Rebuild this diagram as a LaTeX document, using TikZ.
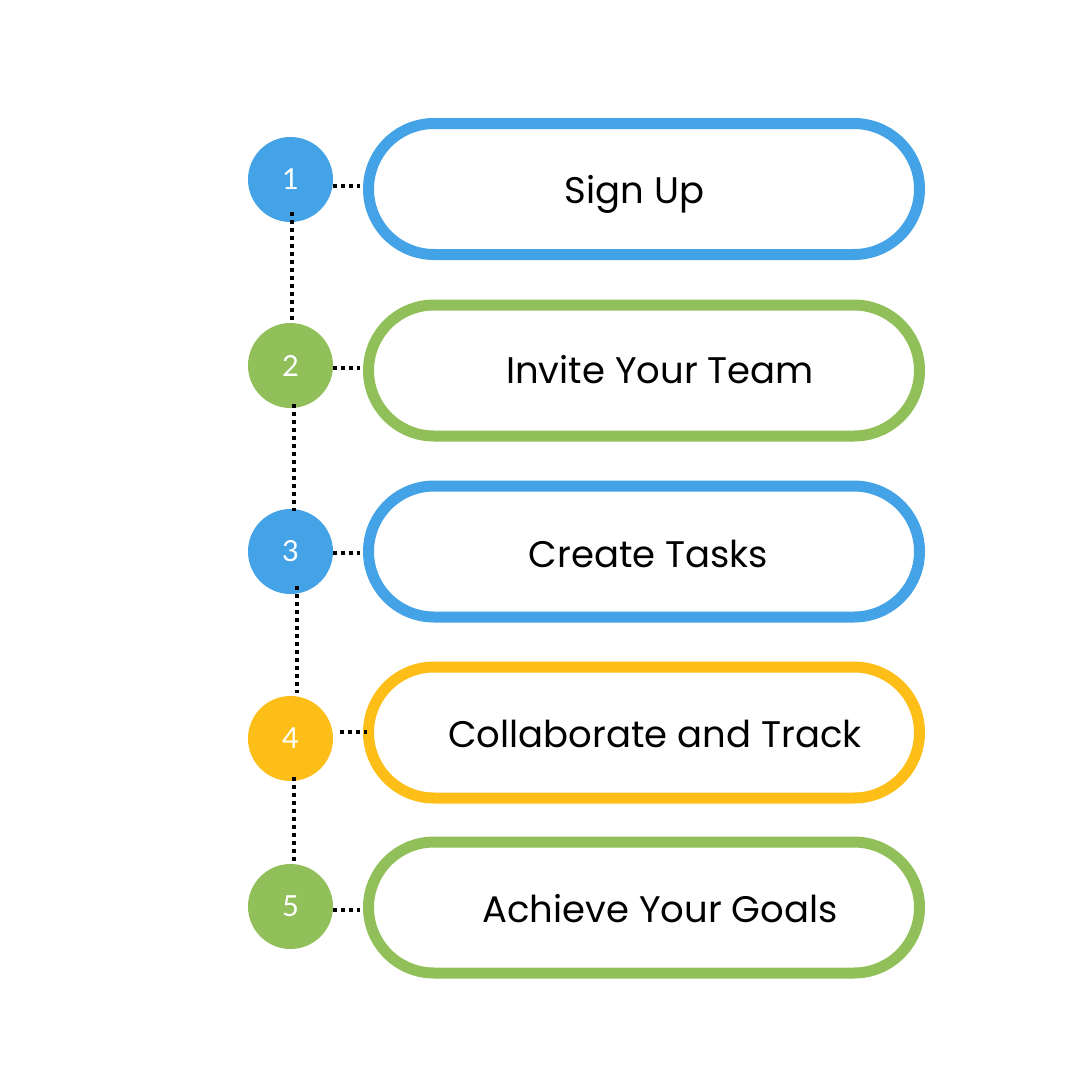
\documentclass[tikz,border=0pt]{standalone}
\usepackage{fontspec}
\setmainfont{Poppins}
\newfontfamily\numfont{Lato}
\definecolor{cblue}{RGB}{67,163,230}
\definecolor{cgreen}{RGB}{145,191,90}
\definecolor{cyellow}{RGB}{254,190,24}
\tikzset{
  stepcircle/.style={circle,minimum size=85pt,inner sep=0pt,text=white,font=\numfont\fontsize{29}{29}\selectfont},
  pill/.style={draw,line width=11pt,rounded corners=65.5pt,fill=white},
  steptext/.style={anchor=base,inner sep=0pt,font=\fontsize{37}{37}\selectfont,text=black},
  dotline/.style={line width=3.2pt,dash pattern=on 3.5pt off 4.5pt,black}
}
\begin{document}
\begin{tikzpicture}[x=1pt,y=-1pt]
\useasboundingbox[fill=white] (0,0) rectangle (1080,1080);
% pills
\foreach \yc/\col [count=\i] in {189/cblue,370.5/cgreen,551.5/cblue,732.5/cyellow,907.5/cgreen}{
  \draw[pill,draw=\col] (368.5,\yc-65.5) rectangle (919.5,\yc+65.5);
  \coordinate (p\i) at (368.5,\yc);
}
% circles
\node[stepcircle,fill=cblue]   (c1) at (290.5,179.5) {1};
\node[stepcircle,fill=cgreen]  (c2) at (290.5,365.5) {2};
\node[stepcircle,fill=cblue]   (c3) at (290.5,551.5) {3};
\node[stepcircle,fill=cyellow] (c4) at (290.5,738.5) {4};
\node[stepcircle,fill=cgreen]  (c5) at (290.5,906.5) {5};
% texts
\node[steptext] (t1) at (634.5,203) {Sign Up};
\node[steptext] (t2) at (660,383) {Invite Your Team};
\node[steptext] (t3) at (648.5,567) {Create Tasks};
\node[steptext] (t4) at (655,747) {Collaborate and Track};
\node[steptext] (t5) at (660,922) {Achieve Your Goals};
% connector end points
\coordinate (h1a) at (333,186); \coordinate (h1b) at (360,186);
\coordinate (h2a) at (333,368); \coordinate (h2b) at (360,368);
\coordinate (h3a) at (333,553); \coordinate (h3b) at (360,553);
\coordinate (h4a) at (340,732); \coordinate (h4b) at (367,732);
\coordinate (h5a) at (333,910); \coordinate (h5b) at (360,910);
\coordinate (v1a) at (292,212); \coordinate (v1b) at (292,321);
\coordinate (v2a) at (294,404); \coordinate (v2b) at (294,511);
\coordinate (v3a) at (297,586); \coordinate (v3b) at (297,693);
\coordinate (v4a) at (294,777); \coordinate (v4b) at (294,861);
\foreach \k in {1,...,5}{\draw[dotline] (h\k a) -- (h\k b);}
\foreach \k in {1,...,4}{\draw[dotline] (v\k a) -- (v\k b);}
\end{tikzpicture}
\end{document}
